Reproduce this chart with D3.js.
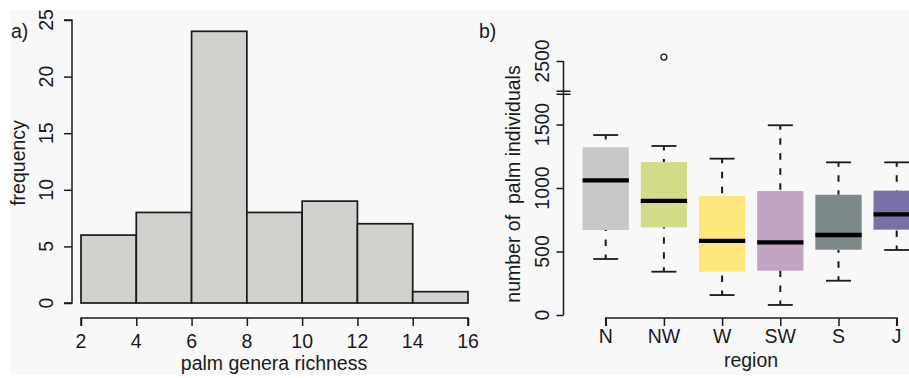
<!DOCTYPE html>
<html>
<head>
<meta charset="utf-8">
<script src="https://cdn.jsdelivr.net/npm/d3@7"></script>
<style>
  html, body { margin: 0; padding: 0; background: #ffffff; }
  svg { display: block; }
  text { font-family: "Liberation Sans", Arial, Helvetica, sans-serif; fill: #1a1a1a; }
</style>
</head>
<body>
<svg id="chart" width="909" height="378"></svg>
<script>
// ---- histogram: palm genera richness ----
const histBinEdges = [2, 4, 6, 8, 10, 12, 14, 16];
const histCounts   = [6, 8, 24, 8, 9, 7, 1];
const histYTicks   = [0, 5, 10, 15, 20, 25];
const histXTicks   = [2, 4, 6, 8, 10, 12, 14, 16];

// ---- boxplot: palm individuals by region ----
const regions      = ["N", "NW", "W", "SW", "S", "J"];
const regionColors = ["#c8c8c8", "#d3da88", "#fee77a", "#c1a4c1", "#7d8889", "#7a70a6"];
const whiskerLow   = [441, 341, 157, 79, 270, 512];
const quartileLow  = [669, 690, 341, 349, 514, 672];
const medians      = [1060, 898, 583, 572, 630, 793];
const quartileHigh = [1320, 1205, 939, 976, 947, 979];
const whiskerHigh  = [1417, 1331, 1231, 1494, 1202, 1202];
const outliers     = [{ region: "NW", value: 2531 }];
const boxYTicks    = [0, 500, 1000, 1500, 2500];

const svg = d3.select("#chart");
const ink = "#1a1a1a";
const fs = 19.5;

// figure background
svg.append("rect").attr("x", 10).attr("y", 10).attr("width", 899).attr("height", 365)
  .attr("fill", "#f8f8f8");

// ================= panel a =================
const xH = d3.scaleLinear().domain([2, 16]).range([81, 468]);
const yH = d3.scaleLinear().domain([0, 25]).range([303, 20]);

const gA = svg.append("g");
gA.selectAll("rect.bar")
  .data(histCounts)
  .join("rect")
  .attr("class", "bar")
  .attr("x", (d, i) => xH(histBinEdges[i]))
  .attr("width", (d, i) => xH(histBinEdges[i + 1]) - xH(histBinEdges[i]))
  .attr("y", d => yH(d))
  .attr("height", d => yH(0) - yH(d))
  .attr("fill", "#d3d1cd")
  .attr("stroke", ink)
  .attr("stroke-width", 1.7);

// y axis
const yAxisA = gA.append("g").attr("transform", "translate(72,0)")
  .call(d3.axisLeft(yH).tickValues(histYTicks).tickSize(8).tickFormat(""));
yAxisA.select(".domain").attr("d", `M-8,${yH(0)}H0V${yH(25)}H-8`).attr("stroke", ink).attr("stroke-width", 1.5);
yAxisA.selectAll(".tick line").attr("stroke", ink).attr("stroke-width", 1.5);
gA.selectAll("text.ytick")
  .data(histYTicks)
  .join("text")
  .attr("class", "ytick")
  .attr("transform", d => `translate(53,${yH(d)}) rotate(-90)`)
  .attr("text-anchor", "middle")
  .attr("font-size", fs)
  .text(d => d);

// x axis
const xAxisA = gA.append("g").attr("transform", "translate(0,318)")
  .call(d3.axisBottom(xH).tickValues(histXTicks).tickSize(8).tickFormat(""));
xAxisA.select(".domain").attr("d", `M${xH(2)},8V0H${xH(16)}V8`).attr("stroke", ink).attr("stroke-width", 1.5);
xAxisA.selectAll(".tick line").attr("stroke", ink).attr("stroke-width", 1.5);
gA.selectAll("text.xtick")
  .data(histXTicks)
  .join("text")
  .attr("class", "xtick")
  .attr("x", d => xH(d))
  .attr("y", 348)
  .attr("text-anchor", "middle")
  .attr("font-size", fs)
  .text(d => d);

gA.append("text").attr("x", 274).attr("y", 370).attr("text-anchor", "middle")
  .attr("font-size", fs).text("palm genera richness");
gA.append("text").attr("transform", "translate(25,163) rotate(-90)").attr("text-anchor", "middle")
  .attr("font-size", fs).text("frequency");
gA.append("text").attr("x", 11).attr("y", 38).attr("font-size", fs).text("a)");

// ================= panel b =================
// value axis with a break between 1750 and 2250
const yB = d3.scaleLinear()
  .domain([0, 1750, 2250, 3000])
  .range([315, 315 - 1750 * 0.127, 315 - 1750 * 0.127, 315 - 2500 * 0.127]);
const xB = d3.scalePoint().domain(regions).range([605.7, 896.7]);
const boxW = 46.3, capW = 25;

const gB = svg.append("g");

const boxes = regions.map((r, i) => ({
  r, color: regionColors[i], lo: whiskerLow[i], q1: quartileLow[i],
  med: medians[i], q3: quartileHigh[i], hi: whiskerHigh[i]
}));

const bx = gB.selectAll("g.box").data(boxes).join("g").attr("class", "box");

// whiskers (dashed, drawn from the whisker end toward the hinge)
bx.append("line")
  .attr("x1", d => xB(d.r)).attr("x2", d => xB(d.r))
  .attr("y1", d => yB(d.hi)).attr("y2", d => yB(d.q3))
  .attr("stroke", ink).attr("stroke-width", 2)
  .attr("stroke-dasharray", "6.5,8.5").attr("stroke-dashoffset", 2);
bx.append("line")
  .attr("x1", d => xB(d.r)).attr("x2", d => xB(d.r))
  .attr("y1", d => yB(d.lo)).attr("y2", d => yB(d.q1))
  .attr("stroke", ink).attr("stroke-width", 2)
  .attr("stroke-dasharray", "6.5,8.5").attr("stroke-dashoffset", 2);
// caps
bx.selectAll("line.cap").data(d => [d.lo, d.hi].map(v => ({ r: d.r, v })))
  .join("line").attr("class", "cap")
  .attr("x1", d => xB(d.r) - capW / 2).attr("x2", d => xB(d.r) + capW / 2)
  .attr("y1", d => yB(d.v)).attr("y2", d => yB(d.v))
  .attr("stroke", ink).attr("stroke-width", 1.8);
// box body
bx.append("rect")
  .attr("x", d => xB(d.r) - boxW / 2).attr("width", boxW)
  .attr("y", d => yB(d.q3)).attr("height", d => yB(d.q1) - yB(d.q3))
  .attr("fill", d => d.color);
// median
bx.append("line")
  .attr("x1", d => xB(d.r) - boxW / 2).attr("x2", d => xB(d.r) + boxW / 2)
  .attr("y1", d => yB(d.med)).attr("y2", d => yB(d.med))
  .attr("stroke", "#000").attr("stroke-width", 4.3);

// outliers
gB.selectAll("circle.out").data(outliers).join("circle").attr("class", "out")
  .attr("cx", d => xB(d.region)).attr("cy", d => yB(d.value)).attr("r", 3)
  .attr("fill", "none").attr("stroke", ink).attr("stroke-width", 1.3);

// y axis
const yAxisB = gB.append("g").attr("transform", "translate(563.5,0)")
  .call(d3.axisLeft(yB).tickValues(boxYTicks).tickSize(7).tickFormat(""));
yAxisB.select(".domain").attr("d", `M0,${yB(0)}V${yB(2500)}`).attr("stroke", ink).attr("stroke-width", 1.5);
yAxisB.selectAll(".tick line").attr("stroke", ink).attr("stroke-width", 1.5);
// break marks
const breakY = yB(1750);
[-1.5, 1.5].forEach(o => {
  gB.append("line").attr("x1", 556.5).attr("x2", 570.5)
    .attr("y1", breakY + o).attr("y2", breakY + o)
    .attr("stroke", ink).attr("stroke-width", 1.5);
});
gB.selectAll("text.ytick").data(boxYTicks).join("text").attr("class", "ytick")
  .attr("transform", d => `translate(549,${yB(d)}) rotate(-90)`)
  .attr("text-anchor", "middle").attr("font-size", fs).text(d => d);

// x axis
const xAxisB = gB.append("g").attr("transform", "translate(0,318)")
  .call(d3.axisBottom(xB).tickSize(8).tickFormat(""));
xAxisB.select(".domain").attr("d", `M${xB("N")},8V0H${xB("J")}V8`).attr("stroke", ink).attr("stroke-width", 1.5);
xAxisB.selectAll(".tick line").attr("stroke", ink).attr("stroke-width", 1.5);
gB.selectAll("text.xtick").data(regions).join("text").attr("class", "xtick")
  .attr("x", d => xB(d)).attr("y", 343).attr("text-anchor", "middle")
  .attr("font-size", fs).text(d => d);

gB.append("text").attr("x", 751).attr("y", 366.5).attr("text-anchor", "middle")
  .attr("font-size", fs).text("region");
gB.append("text").attr("transform", "translate(520,184) rotate(-90)").attr("text-anchor", "middle")
  .attr("font-size", fs).attr("xml:space", "preserve").style("white-space", "pre")
  .text("number of  palm individuals");
gB.append("text").attr("x", 479).attr("y", 38).attr("font-size", fs).text("b)");
</script>
</body>
</html>
